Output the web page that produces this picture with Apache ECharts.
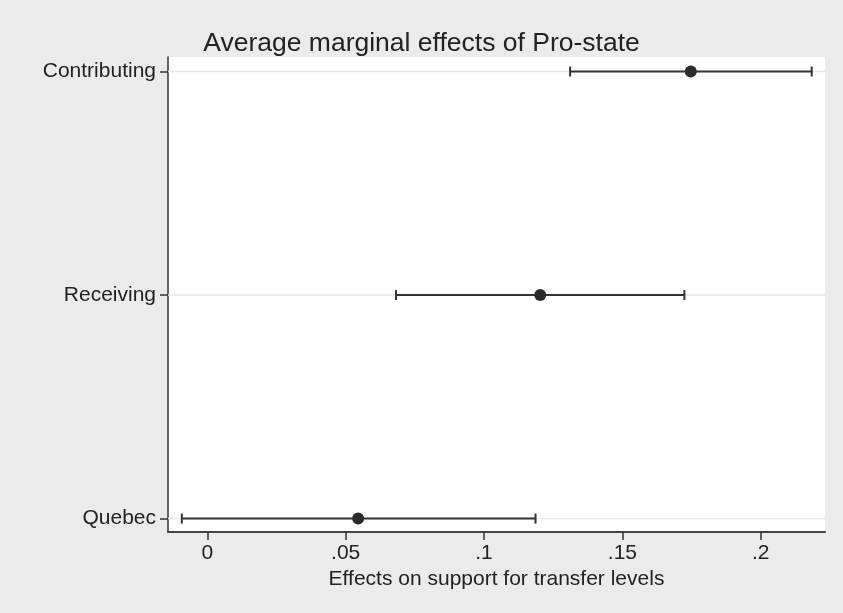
<!DOCTYPE html>
<html>
<head>
<meta charset="utf-8">
<script src="https://cdn.jsdelivr.net/npm/echarts@6/dist/echarts.min.js"></script>
<style>
  html, body { margin: 0; padding: 0; background: #ebebeb; }
  #chart { width: 843px; height: 613px; }
</style>
</head>
<body>
<div id="chart"></div>
<script>
// Average marginal effects with 95% confidence intervals
const categories = ['Quebec', 'Receiving', 'Contributing'];
const estimates = [0.0545, 0.1203, 0.1747];
const lowerCI = [-0.0092, 0.0682, 0.1311];
const upperCI = [0.1186, 0.1724, 0.2184];
const xTicks = [0, 0.05, 0.1, 0.15, 0.2];
const yPositions = [1, 2, 3];

const FONT = '"Liberation Sans", Arial, Helvetica, sans-serif';
const INK = '#333333';

const intervalData = categories.map((c, i) => [lowerCI[i], upperCI[i], yPositions[i]]);
const pointData = categories.map((c, i) => [estimates[i], yPositions[i]]);

function fmtTick(v) {
  if (v === 0) return '0';
  return String(+v.toFixed(2)).replace(/^0\./, '.');
}

const chart = echarts.init(document.getElementById('chart'), null, { renderer: 'canvas' });

chart.setOption({
  backgroundColor: '#ebebeb',
  animation: false,
  title: {
    text: 'Average marginal effects of Pro-state',
    left: 'center',
    top: 25,
    textStyle: { fontFamily: FONT, fontSize: 26.5, fontWeight: 'normal', color: '#222' }
  },
  grid: {
    left: 168, right: 18, top: 57, bottom: 81,
    show: true, backgroundColor: '#ffffff', borderWidth: 0
  },
  xAxis: {
    type: 'value',
    min: -0.0142,
    max: 0.2232,
    name: 'Effects on support for transfer levels',
    nameLocation: 'middle',
    nameGap: 37,
    nameTextStyle: { fontFamily: FONT, fontSize: 21, color: '#222' },
    axisLine: { show: true, onZero: false, lineStyle: { color: '#444', width: 2 } },
    axisTick: { show: true, length: 8, customValues: xTicks, lineStyle: { color: '#333', width: 1.5 } },
    axisLabel: {
      customValues: xTicks,
      formatter: fmtTick,
      margin: 11,
      fontFamily: FONT, fontSize: 21, color: '#222'
    },
    splitLine: { show: false }
  },
  yAxis: {
    type: 'value',
    min: 0.94,
    max: 3.065,
    axisLine: { show: true, onZero: false, lineStyle: { color: '#333', width: 1.5 } },
    axisTick: { show: true, length: 8, customValues: yPositions, lineStyle: { color: '#333', width: 1.5 } },
    axisLabel: {
      customValues: yPositions,
      formatter: v => categories[Math.round(v) - 1] || '',
      margin: 12,
      fontFamily: FONT, fontSize: 21, color: '#222'
    },
    splitLine: { show: false }
  },
  series: [
    {
      // horizontal reference lines through each category
      type: 'custom',
      silent: true,
      z: 1,
      data: yPositions.map(y => [y]),
      encode: { y: 0 },
      renderItem: function (params, api) {
        const y = api.coord([0, api.value(0)])[1];
        const cs = params.coordSys;
        return {
          type: 'line',
          shape: { x1: cs.x, y1: y, x2: cs.x + cs.width, y2: y },
          style: { stroke: '#e6e6e6', lineWidth: 1.5 }
        };
      }
    },
    {
      // confidence interval bars with end caps
      type: 'custom',
      z: 2,
      data: intervalData,
      encode: { x: [0, 1], y: 2 },
      renderItem: function (params, api) {
        const lo = api.coord([api.value(0), api.value(2)]);
        const hi = api.coord([api.value(1), api.value(2)]);
        const cap = 5;
        const style = { stroke: INK, lineWidth: 2 };
        return {
          type: 'group',
          children: [
            { type: 'line', shape: { x1: lo[0], y1: lo[1], x2: hi[0], y2: hi[1] }, style: style },
            { type: 'line', shape: { x1: lo[0], y1: lo[1] - cap, x2: lo[0], y2: lo[1] + cap }, style: style },
            { type: 'line', shape: { x1: hi[0], y1: hi[1] - cap, x2: hi[0], y2: hi[1] + cap }, style: style }
          ]
        };
      }
    },
    {
      type: 'scatter',
      z: 3,
      data: pointData,
      symbol: 'circle',
      symbolSize: 12,
      itemStyle: { color: '#2b2b2b', opacity: 1 }
    }
  ]
});
</script>
</body>
</html>
